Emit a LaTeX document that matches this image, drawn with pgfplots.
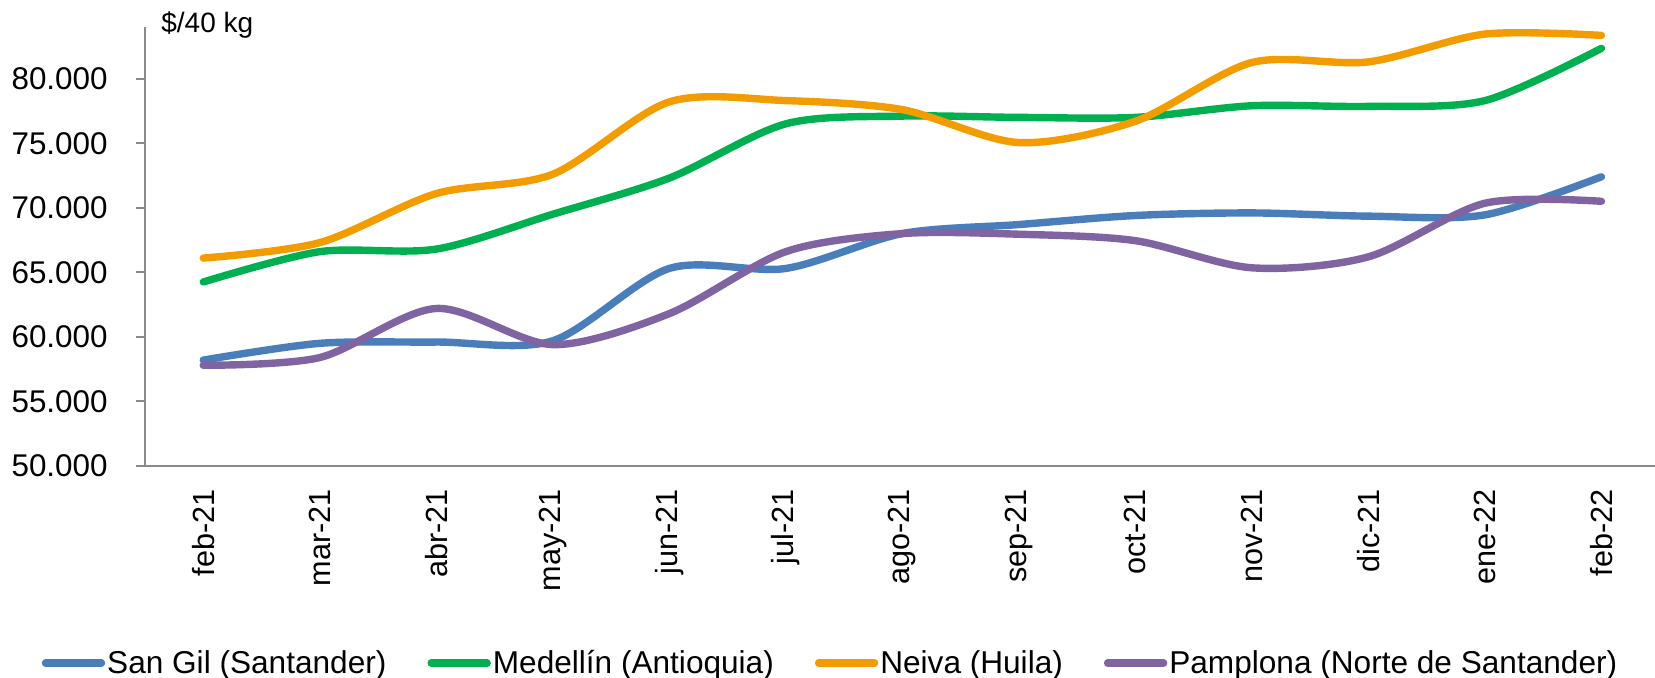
\documentclass[border=0pt]{standalone}
\usepackage{pgfplots}
\pgfplotsset{compat=1.18}
\usepackage{fontspec}
\setmainfont{Liberation Sans}
\definecolor{cblue}{HTML}{4A7EBB}
\definecolor{cgreen}{HTML}{00B050}
\definecolor{corange}{HTML}{F39C00}
\definecolor{cpurple}{HTML}{8064A2}
\definecolor{axgray}{HTML}{898989}
\begin{document}
\begin{tikzpicture}
\begin{axis}[
  scale only axis,
  width=755pt, height=219.5pt,
  xmin=-0.5, xmax=12.46,
  ymin=50000, ymax=84000,
  scaled y ticks=false,
  axis x line=bottom, axis y line=left,
  axis line style={-, draw=axgray, line width=1pt},
  xtick={0,...,12},
  xticklabels={feb-21,mar-21,abr-21,may-21,jun-21,jul-21,ago-21,sep-21,oct-21,nov-21,dic-21,ene-22,feb-22},
  x tick style={draw=none},
  xticklabel style={rotate=90, anchor=east, inner sep=0pt, font=\fontsize{15.3}{18}\selectfont},
  xticklabel shift=7pt,
  ytick={50000,55000,60000,65000,70000,75000,80000},
  yticklabels={50.000,55.000,60.000,65.000,70.000,75.000,80.000},
  y tick style={draw=axgray, line width=1pt},
  tick align=outside,
  major tick length=4.5pt,
  yticklabel style={anchor=east, inner sep=0pt, font=\fontsize{15.7}{18}\selectfont},
  yticklabel shift=14pt,
  every axis plot/.append style={line width=3.7pt, line cap=round, smooth, tension=0.5},
  legend columns=4,
  legend style={at={(rel axis cs:0.454,-0.449)}, anchor=center, draw=none, fill=none,
    font=\fontsize{15.8}{18}\selectfont,
    /tikz/every even column/.append style={column sep=19.5pt},
    nodes={inner xsep=1pt, inner ysep=0pt}},
  legend image code/.code={\draw[#1, line width=3.7pt, line cap=round] (0pt,0pt) -- (28pt,0pt);},
  clip=false,
]
\addplot[cblue] coordinates {(0,58200)(1,59500)(2,59600)(3,59700)(4,65300)(5,65300)(6,68000)(7,68700)(8,69400)(9,69600)(10,69350)(11,69450)(12,72400)};
\addlegendentry{San Gil (Santander)}
\addplot[cgreen] coordinates {(0,64250)(1,66600)(2,66800)(3,69500)(4,72300)(5,76500)(6,77100)(7,77000)(8,77000)(9,77900)(10,77850)(11,78300)(12,82350)};
\addlegendentry{Medellín (Antioquia)}
\addplot[corange] coordinates {(0,66100)(1,67300)(2,71100)(3,72600)(4,78200)(5,78300)(6,77600)(7,75050)(8,76700)(9,81250)(10,81300)(11,83450)(12,83350)};
\addlegendentry{Neiva (Huila)}
\addplot[cpurple] coordinates {(0,57800)(1,58400)(2,62200)(3,59400)(4,61800)(5,66600)(6,68000)(7,67950)(8,67450)(9,65350)(10,66200)(11,70350)(12,70500)};
\addlegendentry{Pamplona (Norte de Santander)}
\coordinate (bl) at (rel axis cs:0,0);
\node[anchor=base west, inner sep=0pt, font=\fontsize{14}{16}\selectfont] at ([xshift=8pt,yshift=-3pt]rel axis cs:0,1) {\$/40 kg};
\end{axis}
\pgfresetboundingbox
\path ([xshift=-72.5pt,yshift=-106pt]bl) rectangle ++(827.5pt,339pt);
\end{tikzpicture}
\end{document}
